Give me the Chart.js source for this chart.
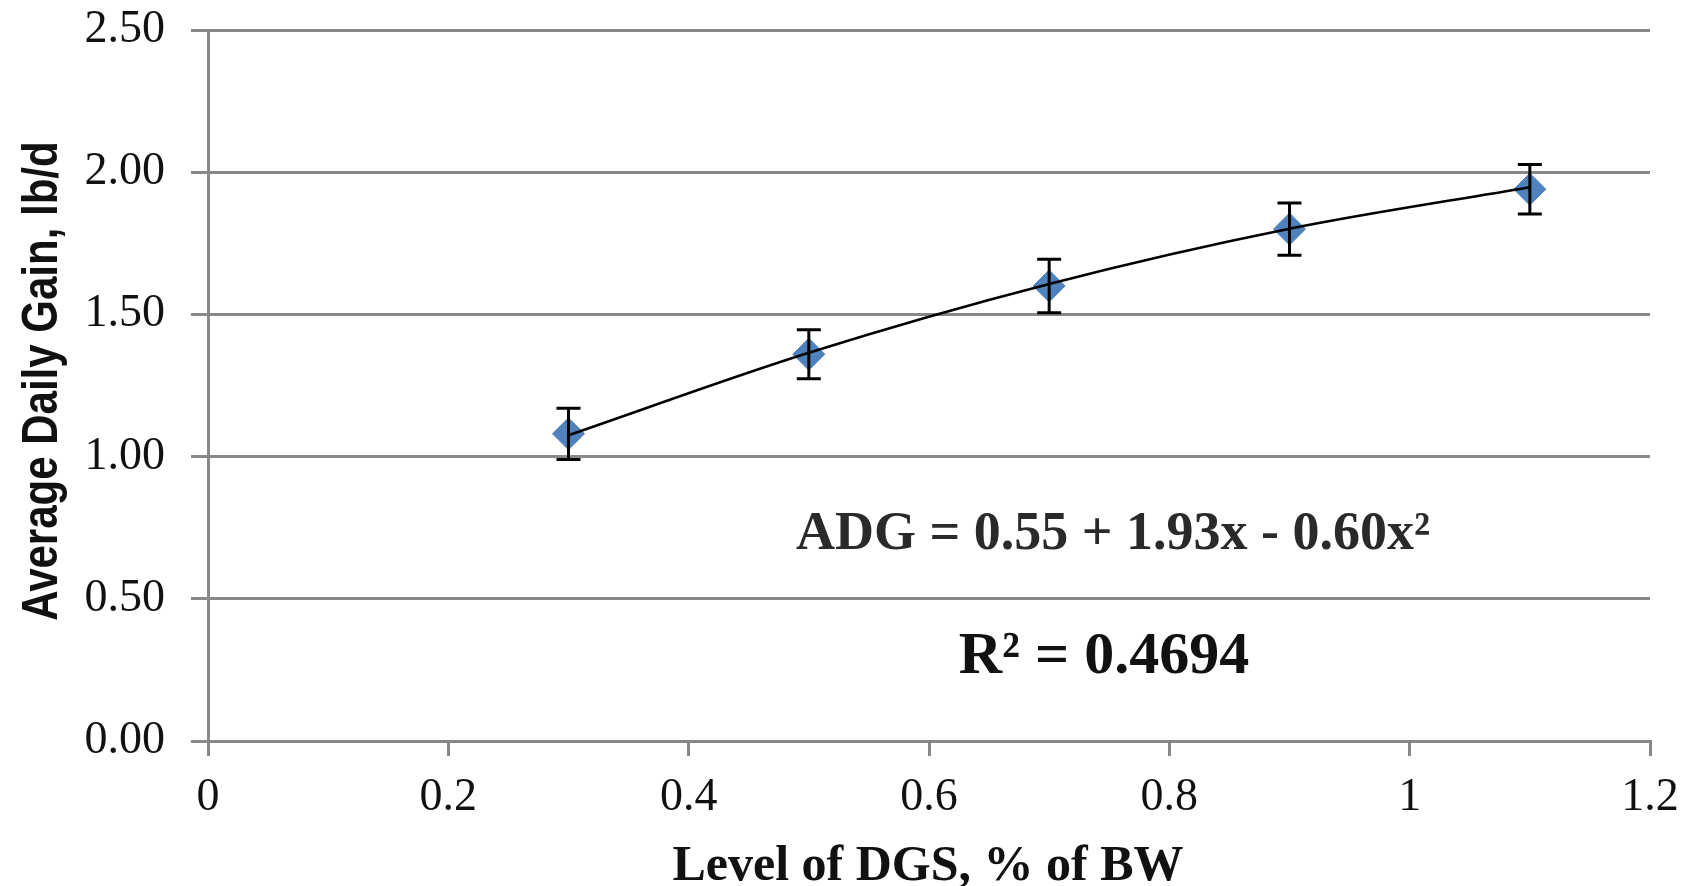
<!DOCTYPE html>
<html>
<head>
<meta charset="utf-8">
<script src="https://cdn.jsdelivr.net/npm/chart.js@4.4.1/dist/chart.umd.min.js"></script>
<style>
  html, body { margin: 0; padding: 0; background: #fff; }
  #wrap { width: 1683px; height: 886px; position: relative; }
</style>
</head>
<body>
<div id="wrap"><canvas id="adgChart"></canvas></div>
<script>
// data
const dgsLevel = [0.3, 0.5, 0.7, 0.9, 1.1];
const adgMean = [1.08, 1.36, 1.60, 1.80, 1.94];
const adgErr = [0.09, 0.086, 0.094, 0.092, 0.087];
// quadratic trend line as it appears on the plot
const trendX = [0.3, 0.5, 0.7, 0.9, 1.1];
const trendY = [1.075, 1.365, 1.607, 1.801, 1.947];
const xTickLabels = ['0', '0.2', '0.4', '0.6', '0.8', '1', '1.2'];
const yTickLabels = ['0.00', '0.50', '1.00', '1.50', '2.00', '2.50'];

const pointData = dgsLevel.map((x, i) => ({ x: x, y: adgMean[i] }));
const trendData = trendX.map((x, i) => ({ x: x, y: trendY[i] }));

const gridGray = '#888888';
const serif = '"Liberation Serif", "Times New Roman", serif';

// error bars drawn on top of the markers
const errorBars = {
  id: 'errorBars',
  afterDatasetsDraw(chart) {
    const { ctx, scales: { x, y } } = chart;
    ctx.save();
    ctx.strokeStyle = '#000';
    ctx.lineWidth = 3;
    dgsLevel.forEach((v, i) => {
      const px = x.getPixelForValue(v);
      const top = y.getPixelForValue(adgMean[i] + adgErr[i]);
      const bot = y.getPixelForValue(adgMean[i] - adgErr[i]);
      ctx.beginPath();
      ctx.moveTo(px, top); ctx.lineTo(px, bot);
      ctx.moveTo(px - 12, top); ctx.lineTo(px + 12, top);
      ctx.moveTo(px - 12, bot); ctx.lineTo(px + 12, bot);
      ctx.stroke();
    });
    ctx.restore();
  }
};

// axis titles and equation text
const labels = {
  id: 'labels',
  afterDraw(chart) {
    const ctx = chart.ctx;
    ctx.save();
    ctx.fillStyle = '#111';
    ctx.textAlign = 'center';
    ctx.textBaseline = 'alphabetic';

    // y axis title (glyphs are a bit taller than normal in the original)
    ctx.save();
    ctx.translate(57, 381);
    ctx.rotate(-Math.PI / 2);
    ctx.scale(1, 1.18);
    ctx.font = 'bold 42px "Liberation Sans", Arial, sans-serif';
    ctx.fillText('Average Daily Gain, lb/d', 0, 0);
    ctx.restore();

    // x axis title
    ctx.font = 'bold 50px ' + serif;
    ctx.fillText('Level of DGS, % of BW', 928, 880);

    // regression equation
    ctx.fillStyle = '#2a2a2a';
    ctx.font = 'bold 54px ' + serif;
    ctx.fillText('ADG = 0.55 + 1.93x - 0.60x\u00B2', 1113, 549);

    ctx.fillStyle = '#111';
    ctx.font = 'bold 60px ' + serif;
    ctx.fillText('R\u00B2 = 0.4694', 1104, 673);

    ctx.restore();
  }
};

new Chart(document.getElementById('adgChart'), {
  type: 'scatter',
  data: {
    datasets: [
      {
        label: 'Trend',
        data: trendData,
        showLine: true,
        borderColor: '#000',
        borderWidth: 2.5,
        pointRadius: 0,
        cubicInterpolationMode: 'monotone',
        order: 1
      },
      {
        label: 'ADG',
        data: pointData,
        pointStyle: 'rectRot',
        pointRadius: 16,
        pointHoverRadius: 16,
        backgroundColor: '#4f81bd',
        borderColor: '#4f81bd',
        borderWidth: 1,
        order: 2
      }
    ]
  },
  options: {
    responsive: true,
    maintainAspectRatio: false,
    animation: false,
    layout: { padding: 0 },
    plugins: {
      legend: { display: false },
      tooltip: { enabled: false }
    },
    scales: {
      x: {
        type: 'linear',
        min: 0,
        max: 1.2,
        afterFit: s => { s.height = 145; s.paddingRight = 33; },
        afterBuildTicks: s => {
          s.ticks = xTickLabels.map((t, i) => ({ value: i * 0.2 }));
        },
        grid: { drawOnChartArea: false, drawTicks: true, tickLength: 15, color: gridGray, lineWidth: 3 },
        border: { color: gridGray, width: 3 },
        ticks: {
          padding: 14,
          color: '#111',
          font: { family: serif, size: 46 },
          callback: (v, i) => xTickLabels[i]
        }
      },
      y: {
        min: 0,
        max: 2.5,
        afterFit: s => { s.width = 208; s.paddingTop = 30; },
        ticks: {
          stepSize: 0.5,
          padding: 26,
          color: '#111',
          font: { family: serif, size: 46 },
          callback: (v, i) => yTickLabels[i]
        },
        grid: { color: gridGray, lineWidth: 3, tickLength: 17 },
        border: { color: gridGray, width: 3 }
      }
    }
  },
  plugins: [errorBars, labels]
});
</script>
</body>
</html>
